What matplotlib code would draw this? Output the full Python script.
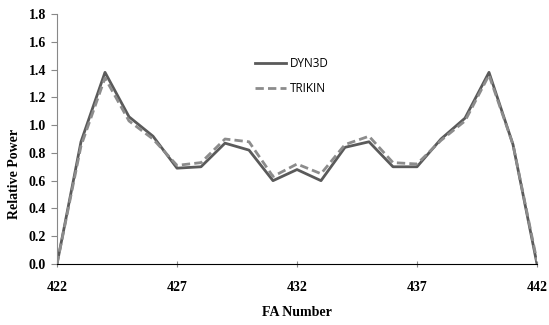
import matplotlib.pyplot as plt

fa_number = list(range(422, 443))
dyn3d = [0.0, 0.88, 1.38, 1.06, 0.92, 0.69, 0.70, 0.87, 0.82, 0.60, 0.68,
         0.60, 0.84, 0.88, 0.70, 0.70, 0.90, 1.05, 1.38, 0.86, 0.0]
trikin = [0.0, 0.85, 1.34, 1.03, 0.90, 0.71, 0.73, 0.90, 0.88, 0.63, 0.72,
          0.65, 0.86, 0.92, 0.73, 0.72, 0.89, 1.03, 1.36, 0.86, 0.02]
x_ticks = [422, 427, 432, 437, 442]
y_ticks = [0.0, 0.2, 0.4, 0.6, 0.8, 1.0, 1.2, 1.4, 1.6, 1.8]

serif_bold = {"family": "Liberation Serif", "weight": "bold", "size": 10}

fig = plt.figure(figsize=(5.49, 3.25), dpi=100)
ax = fig.add_axes([57 / 549, 61 / 325, 480 / 549, 250 / 325])

ax.plot(fa_number, dyn3d, color="#5a5a5a", lw=2.0, label="DYN3D")
ax.plot(fa_number, trikin, color="#8c8c8c", lw=2.0, ls=(0, (3, 1.5)), label="TRIKIN")

ax.set_xlim(422, 442)
ax.set_ylim(0, 1.8)
ax.set_xticks(x_ticks)
ax.set_yticks(y_ticks)
ax.set_xticklabels([str(t) for t in x_ticks], fontdict=serif_bold)
ax.set_yticklabels([f"{t:.1f}" for t in y_ticks], fontdict=serif_bold)
ax.tick_params(axis="x", direction="inout", length=5, pad=10, color="#888888")
ax.tick_params(axis="y", direction="out", length=4, pad=4, color="#888888")

for side in ["top", "right"]:
    ax.spines[side].set_visible(False)
ax.spines["left"].set_color("#888888")
ax.spines["bottom"].set_color("black")

ax.set_xlabel("FA Number", fontdict=serif_bold)
ax.set_ylabel("Relative Power", fontdict=serif_bold)
ax.xaxis.set_label_coords(0.5, -0.17)
ax.yaxis.set_label_coords(-0.075, 0.36)

ax.legend(loc="upper left", bbox_to_anchor=(0.39, 0.87), frameon=False,
          handlelength=2.6, handletextpad=0.4, labelspacing=1.0,
          prop={"family": "Open Sans", "size": 8.5})

fig.savefig("out.png", dpi=100)
